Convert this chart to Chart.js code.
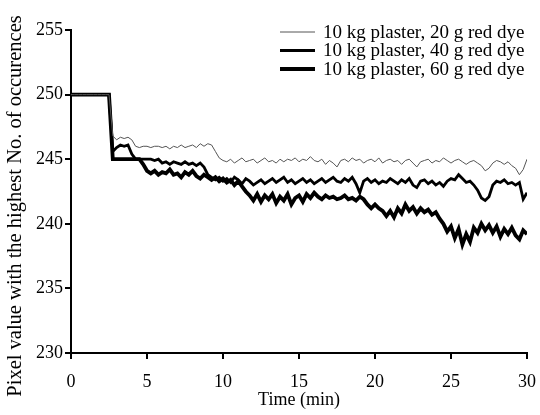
<!DOCTYPE html>
<html>
<head>
<meta charset="utf-8">
<script src="https://cdn.jsdelivr.net/npm/chart.js@4.4.1/dist/chart.umd.min.js"></script>
<style>
  html, body { margin: 0; padding: 0; background: #fff; }
</style>
</head>
<body>
<canvas id="myChart" width="540" height="415"></canvas>
<script>
// sampled every 0.25 min from 0 to 30
const step = 0.25;

const dye20 = [
  250, 250, 250, 250, 250, 250, 250, 250, 250, 250, 250,
  246.8, 246.5, 246.7, 246.6, 246.7, 246.5, 246.0, 245.9, 246.0, 246.0,
  245.9, 246.0, 246.0, 245.9, 246.0, 245.8, 246.0, 245.9, 246.1, 245.9,
  246.0, 246.1, 245.9, 246.2, 246.0, 246.2, 246.1, 245.6, 245.1, 244.9,
  244.8, 245.0, 244.7, 244.9, 245.1, 244.8, 244.9, 245.0, 244.7, 244.9,
  245.1, 244.8, 244.9, 244.7, 245.0, 244.8, 245.0, 244.9, 245.1, 244.8,
  245.0, 244.9, 245.2, 244.9, 244.8, 245.0, 244.6, 244.9, 244.7, 244.4,
  244.9, 245.0, 244.8, 245.1, 244.9, 245.0, 244.7, 244.9, 245.0, 244.8,
  245.1, 244.7, 244.9, 245.0, 244.8, 244.9, 244.6, 244.9, 245.0, 244.7,
  244.4, 244.8, 244.9, 245.0, 244.7, 244.9, 244.8, 245.1, 244.9, 244.7,
  244.9, 245.0, 244.8, 244.6, 244.8, 244.9, 244.7, 244.5, 244.1, 244.3,
  244.7, 244.9, 244.8, 244.6, 244.8, 244.5, 244.3, 243.8, 244.2, 245.0
];

const dye40 = [
  250, 250, 250, 250, 250, 250, 250, 250, 250, 250, 250,
  245.6, 245.9, 246.1, 246.0, 246.1, 245.4, 245.0, 245.0, 245.0, 245.0,
  245.0, 244.9, 245.0, 244.7, 244.8, 244.6, 244.8, 244.7, 244.6, 244.8,
  244.6, 244.7, 244.5, 244.7, 244.4, 243.8, 243.6, 243.4, 243.6, 243.3,
  243.5, 243.2, 243.6, 243.4, 243.1, 243.5, 243.3, 243.0, 243.2, 243.4,
  243.1, 243.3, 243.5, 243.2, 243.4, 243.6, 243.2, 243.4, 243.1, 243.3,
  243.5, 243.2, 243.4, 243.1, 243.3, 243.5, 243.2, 243.4, 243.6, 243.3,
  243.2, 243.5, 243.3, 243.6, 243.1, 242.4, 243.3, 243.5, 243.2, 243.4,
  243.1, 243.3, 243.2, 243.5, 243.3, 243.1, 243.4, 243.2, 243.5, 243.0,
  242.8, 243.3, 243.4, 243.1, 243.3, 243.0, 243.2, 242.9, 243.3, 243.5,
  243.4, 243.8, 243.5, 243.2, 243.3, 243.0, 242.6, 242.0, 241.8, 242.1,
  243.0, 243.3, 243.2, 243.4, 243.1, 243.2, 243.0, 243.2, 241.9, 242.4
];

const dye60 = [
  250, 250, 250, 250, 250, 250, 250, 250, 250, 250, 250,
  245.0, 245.0, 245.0, 245.0, 245.0, 245.0, 245.0, 245.0, 244.6, 244.1,
  243.9, 244.1, 243.8, 244.0, 243.9, 244.2, 243.8, 243.9, 243.6, 244.0,
  243.8, 244.1, 243.7, 243.5, 243.8, 243.6, 243.4, 243.6, 243.3, 243.5,
  243.2, 243.4, 243.0, 243.3, 242.9, 242.5, 242.2, 241.8, 242.3, 241.7,
  242.2, 241.9, 242.3, 241.6, 242.1, 241.8, 242.3, 241.5, 242.0, 242.2,
  241.7, 242.3, 242.0, 242.4, 242.1, 241.9, 242.2, 242.0, 242.1, 241.9,
  242.0, 242.2, 241.9, 242.0, 241.8, 242.1, 241.9, 241.5, 241.2, 241.5,
  241.2, 241.0, 240.6, 241.0, 240.5, 241.2, 240.8, 241.5, 241.0, 241.3,
  240.8, 241.2, 240.9, 241.1, 240.7, 240.9, 240.4, 240.0, 239.4, 239.8,
  238.9, 239.6, 238.4, 239.2, 238.6, 239.7, 239.3, 240.0, 239.5, 239.9,
  239.3, 239.8, 239.0, 239.6, 239.2, 239.7, 239.1, 238.8, 239.5, 239.2
];

const seriesNames = [
  '10 kg plaster, 20 g red dye',
  '10 kg plaster, 40 g red dye',
  '10 kg plaster, 60 g red dye'
];

const xTicks = [0, 5, 10, 15, 20, 25, 30];
const yTicks = [230, 235, 240, 245, 250, 255];
const yTitle = 'Pixel value with the highest No. of occurences';

const toPoints = arr => arr.map((v, i) => ({ x: i * step, y: v }));

const font = 'Liberation Serif, Times New Roman, serif';

// legend drawn inside the plot, top right, plus the y title (sits a bit below centre in the original)
const extras = {
  id: 'extras',
  afterDraw(chart) {
    const c = chart.ctx;
    c.save();
    c.font = '19px ' + font;
    c.fillStyle = '#000';
    c.textBaseline = 'middle';
    chart.data.datasets.forEach((ds, i) => {
      const y = 32 + i * 18.5;
      c.strokeStyle = ds.borderColor;
      c.lineWidth = ds.borderWidth;
      c.beginPath();
      c.moveTo(280, y);
      c.lineTo(315, y);
      c.stroke();
      c.fillText(ds.label, 323, y + 1);
    });
    c.translate(16, 206);
    c.rotate(-Math.PI / 2);
    c.font = '20.5px ' + font;
    c.textAlign = 'center';
    c.fillText(yTitle, 0, 0);
    c.restore();
  }
};

const ctx = document.getElementById('myChart');

new Chart(ctx, {
  type: 'line',
  data: {
    datasets: [{
      label: seriesNames[0],
      data: toPoints(dye20),
      borderColor: '#555',
      borderWidth: 1
    }, {
      label: seriesNames[1],
      data: toPoints(dye40),
      borderColor: '#000',
      borderWidth: 2.8
    }, {
      label: seriesNames[2],
      data: toPoints(dye60),
      borderColor: '#000',
      borderWidth: 3.8
    }]
  },
  options: {
    responsive: false,
    animation: false,
    layout: { padding: { top: 30, right: 13, left: 0, bottom: 0 } },
    elements: { point: { radius: 0 }, line: { tension: 0 } },
    plugins: { legend: { display: false }, tooltip: { enabled: false } },
    scales: {
      x: {
        type: 'linear',
        min: 0,
        max: 30,
        afterBuildTicks: s => { s.ticks = xTicks.map(v => ({ value: v })); },
        afterFit: s => { s.height = 62; s.paddingLeft = 0; s.paddingRight = 0; },
        grid: { drawOnChartArea: false, drawTicks: true, tickLength: 6, color: '#000', lineWidth: 2 },
        border: { color: '#000', width: 2 },
        ticks: { color: '#000', font: { family: font, size: 18 }, padding: 12, maxRotation: 0, autoSkip: false },
        title: { display: true, text: 'Time (min)', color: '#000', font: { family: font, size: 18 }, padding: { top: 0, bottom: 4 } }
      },
      y: {
        min: 230,
        max: 255,
        afterBuildTicks: s => { s.ticks = yTicks.map(v => ({ value: v })); },
        afterFit: s => { s.width = 71; },
        grid: { drawOnChartArea: false, drawTicks: true, tickLength: 6, color: '#000', lineWidth: 2 },
        border: { color: '#000', width: 2 },
        ticks: { color: '#000', font: { family: font, size: 18 }, padding: 2, autoSkip: false }
      }
    }
  },
  plugins: [extras]
});
</script>
</body>
</html>
